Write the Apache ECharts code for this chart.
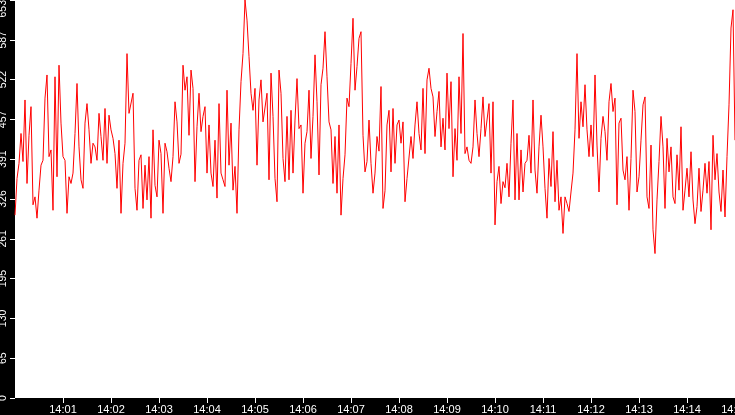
<!DOCTYPE html>
<html>
<head>
<meta charset="utf-8">
<script src="https://cdn.jsdelivr.net/npm/echarts@6/dist/echarts.min.js"></script>
<style>
html,body{margin:0;padding:0;background:#000;}
#chart{width:735px;height:415px;}
</style>
</head>
<body>
<div id="chart"></div>
<script>
// Samples every 2.5 s starting at 14:00:00
const SAMPLE_SECONDS = 2.5;

const block1400 = [300,360,385,434,388,489,352,431,478,317,330,295,341,382,390,492,530,396,407,308,527,363,546,451,396,390,303,363,352,369,434,516,412,358,344,451,483,440,385,418,412,390,467,429,390,475,385,464,440,426,401,344,423,303,385,418,565,467,470,500];
const block1402 = [344,308,390,399,311,382,325,396,295,440,349,330,423,401,303,418,404,377,355,396,486,453,385,400,546,505,527,431,538,508,355,445,500,437,462,478,369,448,369,347,423,328,483,369,358,347,505,382,451,341,380,303,440,519,565,653,620,560,500,472];
const block1405 = [508,382,489,522,453,450,500,358,533,462,360,322,538,500,393,355,462,358,472,369,456,524,442,448,336,418,437,505,393,462,563,486,366,514,541,601,527,453,440,352,429,336,448,300,360,399,492,478,549,623,505,544,590,601,431,371,388,456,385,336];
const block1407 = [369,429,405,511,311,340,448,472,371,475,385,448,456,418,453,322,360,358,429,393,448,486,434,407,508,401,522,541,508,494,429,470,503,412,459,407,533,442,519,363,442,390,527,434,598,401,412,390,385,412,489,434,396,442,494,429,426,483,369,486];
const block1410 = [284,355,380,319,355,345,385,330,418,489,325,434,325,407,338,385,390,431,369,489,374,336,412,464,412,344,295,393,347,437,322,390,308,330,270,330,319,306,338,369,440,565,426,486,445,514,440,396,448,396,530,415,338,426,462,437,390,486,516,470];
const block1412 = [492,317,451,459,374,358,396,308,393,505,470,338,363,423,481,494,330,311,415,276,237,325,388,462,412,311,426,371,412,330,319,399,341,445,308,341,377,330,404,325,286,314,377,306,341,385,336,388,276,431,358,401,338,306,374,297,396,481,607,637,423];

const yTickLabels = ['0','65','130','195','261','326','391','457','522','587','653'];
const xTickLabels = ['14:00','14:01','14:02','14:03','14:04','14:05','14:06','14:07','14:08','14:09','14:10','14:11','14:12','14:13','14:14','14:15'];

const values = [].concat(block1400, block1402, block1405, block1407, block1410, block1412);
const seriesData = values.map((v, i) => [i * SAMPLE_SECONDS, v]);

const chart = echarts.init(document.getElementById('chart'), null, {renderer: 'canvas'});
chart.setOption({
  animation: false,
  backgroundColor: '#000',
  grid: {left: 15, right: 0, top: 0, bottom: 17, show: true, backgroundColor: '#fff', borderWidth: 0,
         containLabel: false, outerBoundsMode: 'none'},
  xAxis: {
    type: 'value', min: 0, max: 900, interval: 60,
    axisLine: {show: false},
    axisTick: {show: true, inside: false, length: 5, lineStyle: {color: '#fff', width: 1}},
    splitLine: {show: false},
    axisLabel: {
      color: '#fff', fontFamily: 'Liberation Sans', fontSize: 11, margin: 6,
      showMinLabel: false, showMaxLabel: true, hideOverlap: false,
      formatter: (v) => xTickLabels[Math.round(v / 60)] || ''
    }
  },
  yAxis: {
    type: 'value', min: 0, max: 653, interval: 65.3,
    axisLine: {show: false},
    axisTick: {show: true, inside: false, length: 5, lineStyle: {color: '#fff', width: 1}},
    splitLine: {show: false},
    axisLabel: {
      color: '#fff', fontFamily: 'Liberation Sans', fontSize: 10.5, margin: 6, rotate: 90,
      showMaxLabel: true, hideOverlap: false, alignMaxLabel: 'right',
      formatter: (v, i) => yTickLabels[i]
    }
  },
  series: [{
    type: 'line',
    data: seriesData,
    showSymbol: false,
    symbol: 'none',
    lineStyle: {color: '#ff0000', width: 1},
    clip: true
  }]
});
</script>
</body>
</html>
